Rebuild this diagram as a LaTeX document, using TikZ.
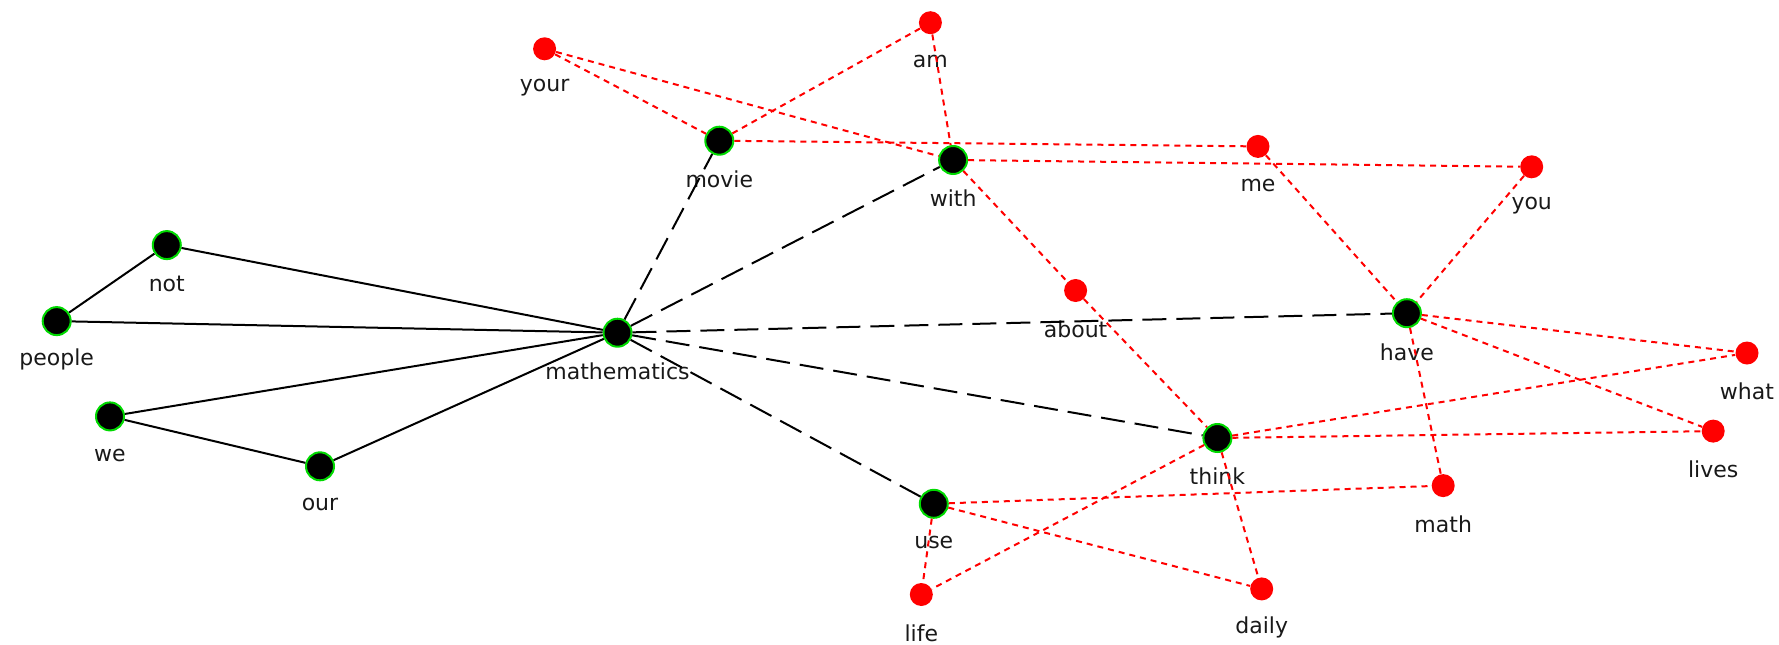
\documentclass[tikz,border=0pt]{standalone}
\usepackage{fontspec}
\setmainfont{DejaVu Sans}
\begin{document}
\begin{tikzpicture}[x=0.5pt,y=-0.5pt,
  hub/.style={circle,fill=black,draw=green!85!black,line width=1pt,minimum size=14pt,inner sep=0pt},
  leaf/.style={circle,fill=red,draw=none,minimum size=11.5pt,inner sep=0pt},
  lab/.style={font=\fontsize{11}{13}\selectfont,text=black!90,inner sep=1pt},
  solidedge/.style={black,line width=1pt},
  longdash/.style={black,line width=1pt,dash pattern=on 12pt off 5pt},
  reddash/.style={red,line width=1pt,dash pattern=on 3pt off 2.5pt}]
\useasboundingbox (0,0) rectangle (1779,644);
% hub nodes
\node[hub] (not) at (166.8,245.1) {};
\node[hub] (people) at (56.7,321.1) {};
\node[hub] (mathematics) at (617.5,332.7) {};
\node[hub] (we) at (110,416.4) {};
\node[hub] (our) at (320,466.3) {};
\node[hub] (movie) at (719.3,140.7) {};
\node[hub] (with) at (953.1,160) {};
\node[hub] (have) at (1406.9,313.2) {};
\node[hub] (think) at (1217.4,438) {};
\node[hub] (use) at (933.8,503.8) {};
% leaf nodes
\node[leaf] (your) at (544.6,48.8) {};
\node[leaf] (am) at (930.4,22.7) {};
\node[leaf] (me) at (1258,146.4) {};
\node[leaf] (you) at (1531.7,166.8) {};
\node[leaf] (about) at (1075.6,290.5) {};
\node[leaf] (what) at (1747,353) {};
\node[leaf] (lives) at (1713.2,431.1) {};
\node[leaf] (math) at (1443.2,485.6) {};
\node[leaf] (life) at (921.3,594.5) {};
\node[leaf] (daily) at (1261.7,588.9) {};
% labels
\node[lab] (not-l) at (166.8,283.7) {not};
\node[lab] (people-l) at (56.7,359.7) {people};
\node[lab] (mathematics-l) at (617.5,371.3) {mathematics};
\node[lab] (we-l) at (110,455) {we};
\node[lab] (our-l) at (320,504.9) {our};
\node[lab] (movie-l) at (719.3,179.3) {movie};
\node[lab] (with-l) at (953.1,198.6) {with};
\node[lab] (have-l) at (1406.9,351.8) {have};
\node[lab] (think-l) at (1217.4,476.6) {think};
\node[lab] (use-l) at (933.8,542.4) {use};
\node[lab] (your-l) at (544.6,87.4) {your};
\node[lab] (am-l) at (930.4,61.3) {am};
\node[lab] (me-l) at (1258,185) {me};
\node[lab] (you-l) at (1531.7,205.4) {you};
\node[lab] (about-l) at (1075.6,329.1) {about};
\node[lab] (what-l) at (1747,391.6) {what};
\node[lab] (lives-l) at (1713.2,469.7) {lives};
\node[lab] (math-l) at (1443.2,524.2) {math};
\node[lab] (life-l) at (921.3,633.1) {life};
\node[lab] (daily-l) at (1261.7,627.5) {daily};
% solid black edges
\draw[solidedge] (people) -- (not);
\draw[solidedge] (people) -- (mathematics);
\draw[solidedge] (not) -- (mathematics);
\draw[solidedge] (we) -- (mathematics);
\draw[solidedge] (we) -- (our);
\draw[solidedge] (our) -- (mathematics);
% long dashed black edges
\draw[longdash] (mathematics) -- (movie);
\draw[longdash] (mathematics) -- (with);
\draw[longdash] (mathematics) -- (have);
\draw[longdash] (mathematics) -- (think);
\draw[longdash] (mathematics) -- (use);
% red dashed edges
\draw[reddash] (your) -- (movie);
\draw[reddash] (your) -- (with);
\draw[reddash] (am) -- (movie);
\draw[reddash] (am) -- (with);
\draw[reddash] (movie) -- (me);
\draw[reddash] (with) -- (you);
\draw[reddash] (with) -- (about);
\draw[reddash] (about) -- (think);
\draw[reddash] (me) -- (have);
\draw[reddash] (you) -- (have);
\draw[reddash] (have) -- (what);
\draw[reddash] (have) -- (lives);
\draw[reddash] (have) -- (math);
\draw[reddash] (think) -- (what);
\draw[reddash] (think) -- (lives);
\draw[reddash] (think) -- (life);
\draw[reddash] (think) -- (daily);
\draw[reddash] (use) -- (math);
\draw[reddash] (use) -- (daily);
\draw[reddash] (use) -- (life);
\end{tikzpicture}
\end{document}
